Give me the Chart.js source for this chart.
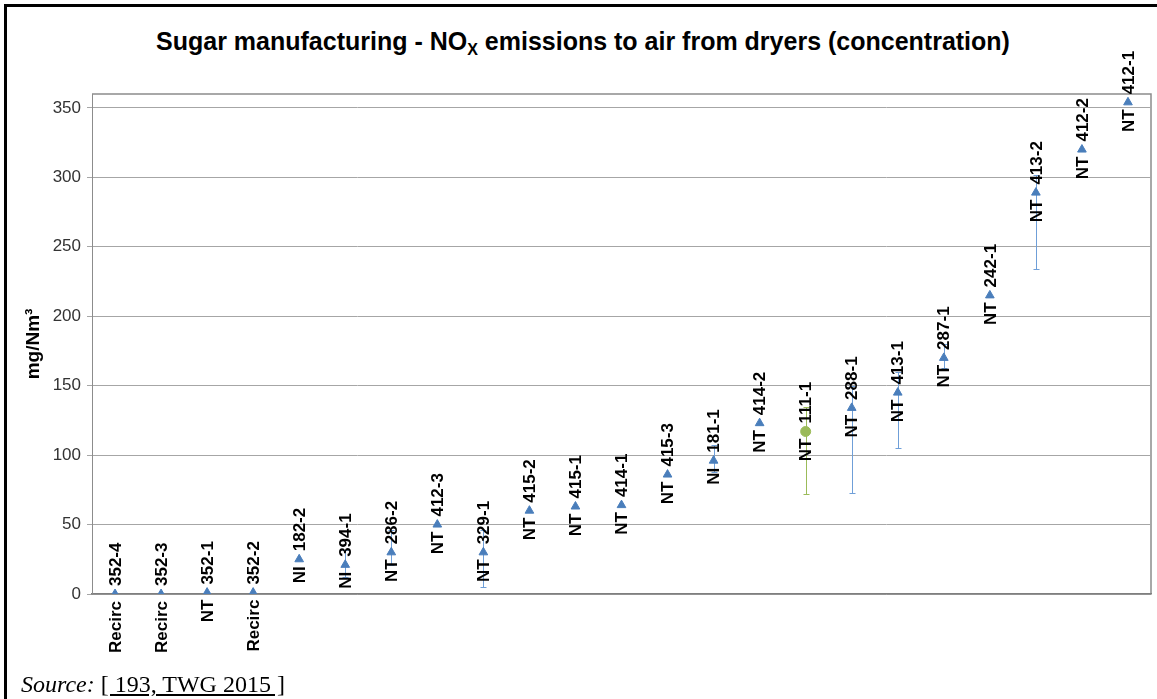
<!DOCTYPE html>
<html>
<head>
<meta charset="utf-8">
<script src="https://cdn.jsdelivr.net/npm/chart.js@4/dist/chart.umd.min.js"></script>
<style>
	html, body {margin: 0; padding: 0; background: #fff; overflow: hidden;}
	body {width: 1157px; height: 699px; position: relative; font-family: "Liberation Sans", Arial, sans-serif;}
	.frame {position: absolute; left: 4px; top: 4px; width: 1200px; height: 800px; border: 3px solid #000; box-sizing: border-box;}
	.title {position: absolute; left: 0; width: 1166px; top: 27px; text-align: center; font-weight: bold; font-size: 25px; line-height: 29px; color: #000; white-space: nowrap;}
	.title sub {font-size: 16px; line-height: 0; vertical-align: -5px;}
	.source {position: absolute; left: 21px; top: 671px; font-family: "Liberation Serif", "Times New Roman", serif; font-size: 24px; line-height: 27px; color: #000; white-space: nowrap;}
	canvas {position: absolute; left: 0; top: 0;}
</style>
</head>
<body>
<div class="frame"></div>
<div class="title">Sugar manufacturing - NO<sub>X</sub> emissions to air from dryers (concentration)</div>
<canvas id="myChart" width="1157" height="699"></canvas>
<div class="source"><i>Source:</i> <u>[ 193, TWG 2015 ]</u></div>
<script>
// installation ids and technique labels
var plants = ["352-4", "352-3", "352-1", "352-2", "182-2", "394-1", "286-2", "412-3", "329-1", "415-2", "415-1", "414-1",
	"415-3", "181-1", "414-2", "111-1", "288-1", "413-1", "287-1", "242-1", "413-2", "412-2", "412-1"]
var techniques = ["Recirc", "Recirc", "NT", "Recirc", "NI", "NI", "NT", "NT", "NT", "NT", "NT", "NT",
	"NT", "NI", "NT", "NT", "NT", "NT", "NT", "NT", "NT", "NT", "NT"]
// average concentration, mg/Nm3
var averages = [0, 0, 1, 1, 25, 21, 30, 50, 30, 60, 63, 64, 86, 96, 123, 117, 134, 145, 170, 215, 289, 320, 354]
// min / max (null = no range)
var minima = [null, null, null, null, null, 12, 21, null, 5, null, null, null, null, 88, null, 72, 73, 105, 163, null, 234, null, null]
var maxima = [null, null, null, null, null, 32, 46, null, 46, null, null, null, null, 107, null, 135, 150, 160, 180, null, 302, null, null]
// 111-1 is drawn differently
var special = [false, false, false, false, false, false, false, false, false, false, false, false,
	false, false, false, true, false, false, false, false, false, false, false]
var yTicks = [0, 50, 100, 150, 200, 250, 300, 350]

var blue = "#4a7ebb"
var green = "#9bbb59"
var lightBlue = "#6f9fd8"

var frameBorder = {
	id: "frameBorder",
	beforeDraw: function (chart) {
		var c = chart.ctx, a = chart.chartArea
		c.save()
		c.strokeStyle = "#8c8c8c"
		c.lineWidth = 1.5
		c.beginPath()
		c.moveTo(a.left, a.top)
		c.lineTo(a.right, a.top)
		c.lineTo(a.right, a.bottom)
		c.stroke()
		c.restore()
	},
}

var errorBars = {
	id: "errorBars",
	beforeDatasetsDraw: function (chart) {
		var c = chart.ctx, x = chart.scales.x, y = chart.scales.y
		c.save()
		c.lineWidth = 1
		for (var i = 0; i < plants.length; i++) {
			if (minima[i] === null) continue
			var px = Math.round(x.getPixelForValue(i)) + 0.5
			var lo = Math.round(y.getPixelForValue(minima[i])) + 0.5
			var hi = Math.round(y.getPixelForValue(maxima[i])) + 0.5
			c.strokeStyle = special[i] ? green : lightBlue
			c.beginPath()
			c.moveTo(px, lo)
			c.lineTo(px, hi)
			c.moveTo(px - 3, lo)
			c.lineTo(px + 3, lo)
			c.moveTo(px - 3, hi)
			c.lineTo(px + 3, hi)
			c.stroke()
		}
		c.restore()
	},
}

var pointLabels = {
	id: "pointLabels",
	afterDatasetsDraw: function (chart) {
		var c = chart.ctx, x = chart.scales.x, y = chart.scales.y
		c.save()
		c.fillStyle = "#000"
		c.font = "bold 17px 'Liberation Sans', Arial, sans-serif"
		c.textBaseline = "middle"
		for (var i = 0; i < plants.length; i++) {
			c.save()
			c.translate(x.getPixelForValue(i), y.getPixelForValue(averages[i]))
			c.rotate(-Math.PI / 2)
			c.textAlign = "left"
			c.fillText(plants[i], 8, 1)
			c.textAlign = "right"
			c.fillText(techniques[i], -7, 1)
			c.restore()
		}
		c.restore()
	},
}

var ctx = document.getElementById("myChart").getContext("2d")
var myChart = new Chart(ctx, {
	type: "line",
	data: {
		labels: plants,
		datasets: [
			{
				data: averages,
				showLine: false,
				pointStyle: special.map(function (s) { return s ? "circle" : "triangle" }),
				pointRadius: 5,
				backgroundColor: special.map(function (s) { return s ? green : blue }),
				borderColor: special.map(function (s) { return s ? green : blue }),
				borderWidth: 1,
			},
		],
	},
	plugins: [frameBorder, errorBars, pointLabels],
	options: {
		responsive: false,
		animation: false,
		layout: {padding: {left: 18, top: 94, right: 2, bottom: 0}},
		scales: {
			x: {
				offset: true,
				grid: {display: false, offset: true},
				border: {display: true, color: "#7f7f7f", width: 1.5},
				ticks: {display: false},
				afterFit: function (scale) { scale.height = 105 },
			},
			y: {
				min: 0,
				max: 360,
				afterBuildTicks: function (scale) {
					scale.ticks = yTicks.map(function (v) { return {value: v} })
				},
				afterFit: function (scale) { scale.width = 74 },
				grid: {color: "#a6a6a6", lineWidth: 1, tickLength: 5},
				border: {display: true, color: "#8c8c8c", width: 1},
				ticks: {
					color: "#333",
					padding: 6,
					font: {size: 17, family: "'Liberation Sans', Arial, sans-serif"},
				},
				title: {
					display: true,
					text: "mg/Nm³",
					color: "#000",
					font: {size: 19, weight: "bold", family: "'Liberation Sans', Arial, sans-serif"},
				},
			},
		},
		plugins: {
			legend: {display: false},
			tooltip: {enabled: false},
		},
	},
})
</script>
</body>
</html>
